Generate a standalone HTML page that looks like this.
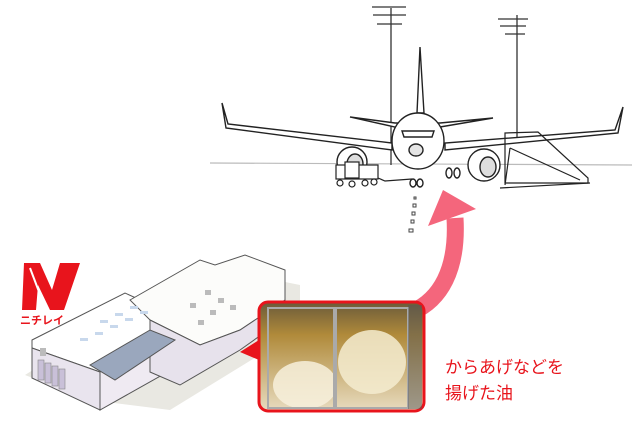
<!DOCTYPE html>
<html><head><meta charset="utf-8"><style>
html,body{margin:0;padding:0;background:#fff;}
body{width:640px;height:428px;position:relative;overflow:hidden;font-family:"Liberation Sans","Noto Sans CJK JP",sans-serif;}
.t{position:absolute;left:445px;color:#e8141c;font-size:17px;line-height:26px;top:355px;font-family:"Liberation Sans","Noto Sans CJK JP",sans-serif;}
</style></head><body>
<svg width="640" height="428" viewBox="0 0 640 428" style="position:absolute;left:0;top:0">
<defs>
<linearGradient id="oil" x1="0" y1="0" x2="0" y2="1">
<stop offset="0" stop-color="#6a5a3a"/><stop offset="0.3" stop-color="#b08a3a"/><stop offset="1" stop-color="#e8dcc0"/>
</linearGradient>
</defs>
<line x1="210" y1="163" x2="632" y2="165" stroke="#bbb" stroke-width="1.2"/>
<g stroke="#333" stroke-width="1.3" fill="none">
<line x1="391" y1="8" x2="391" y2="165"/>
<line x1="372" y1="7" x2="406" y2="7"/><line x1="373" y1="15" x2="406" y2="15"/><line x1="377" y1="24" x2="402" y2="24"/>
<line x1="517" y1="15" x2="517" y2="140"/>
<line x1="498" y1="19" x2="528" y2="19"/><line x1="500" y1="26" x2="526" y2="26"/><line x1="505" y1="34" x2="525" y2="34"/>
</g>
<g stroke="#222" stroke-width="1.4" fill="#fff">
<path d="M417,113 L420,47 L424,113 Z"/>
<path d="M350,117 L395,123 L440,123 L493,118 L440,127 L395,127 Z"/>
<path d="M222,103 L226,128 L392,150 L392,143 L228,124 Z"/>
<path d="M623,107 L618,133 L445,150 L445,143 L615,130 Z"/>
<circle cx="352" cy="162" r="15"/><ellipse cx="355" cy="164" rx="8" ry="10" fill="#ddd"/>
<circle cx="484" cy="165" r="16"/><ellipse cx="488" cy="167" rx="8" ry="10" fill="#ddd"/>
<ellipse cx="418" cy="141" rx="26" ry="28"/>
<path d="M402,131 L434,131 L432,137 L404,137 Z" fill="#fff"/>
<ellipse cx="416" cy="150" rx="7" ry="6" fill="#e5e5e5"/>
<ellipse cx="413" cy="183" rx="3" ry="4"/><ellipse cx="420" cy="183" rx="3" ry="4"/>
<ellipse cx="449" cy="173" rx="3" ry="5"/><ellipse cx="457" cy="173" rx="3" ry="5"/>
</g>
<g stroke="#222" stroke-width="1.2" fill="#fff">
<rect x="336" y="165" width="42" height="14"/><rect x="345" y="162" width="14" height="16"/>
<circle cx="340" cy="183" r="3"/><circle cx="352" cy="184" r="3"/><circle cx="365" cy="183" r="3"/><circle cx="374" cy="182" r="3"/>
<path d="M378,178 L385,181 L412,179" fill="none"/>
</g>
<g stroke="#222" stroke-width="1.2" fill="none">
<path d="M505,133 L538,132 L588,178 L588,183 L505,183 Z"/>
<line x1="510" y1="148" x2="580" y2="180"/><line x1="500" y1="188" x2="590" y2="183"/>
<line x1="510" y1="148" x2="505" y2="185"/>
</g>
<g fill="none" stroke="#444" stroke-width="1"><rect x="414" y="197" width="2" height="2"/><rect x="413" y="204" width="3" height="3"/><rect x="412" y="212" width="3" height="3"/><rect x="411" y="220" width="3" height="3"/><rect x="409" y="229" width="4" height="3"/></g>
<path d="M412,312 C440,300 458,270 455,218" fill="none" stroke="#f4667c" stroke-width="17"/>
<polygon points="428,226 476,209 443,190" fill="#f4667c"/>
<g stroke="#555" stroke-width="1">
<polygon points="25,375 200,265 300,285 300,330 170,410 90,400" fill="#e9e8e2" stroke="none"/>
<polygon points="32,340 125,293 180,318 180,325 100,372 32,348" fill="#fff"/>
<polygon points="32,348 100,372 100,410 32,378" fill="#e9e4ee"/>
<polygon points="100,372 180,325 180,365 100,410" fill="#efeaf2"/>
<polygon points="130,300 200,260 215,265 245,255 285,270 285,300 240,330 200,345 150,320" fill="#fcfcfa"/>
<polygon points="150,320 200,345 240,330 285,300 285,318 240,350 180,385 150,372" fill="#e7e2ec"/>
<polygon points="90,365 150,330 175,340 115,380" fill="#9aa7bd"/>
</g>
<g fill="#c8d8ec"><rect x="100" y="320" width="8" height="3"/><rect x="115" y="313" width="8" height="3"/><rect x="130" y="306" width="8" height="3"/><rect x="95" y="332" width="8" height="3"/><rect x="110" y="325" width="8" height="3"/><rect x="125" y="318" width="8" height="3"/><rect x="140" y="311" width="8" height="3"/><rect x="80" y="338" width="8" height="3"/></g>
<g fill="#bbb"><rect x="205" y="290" width="6" height="5"/><rect x="218" y="298" width="6" height="5"/><rect x="210" y="310" width="6" height="5"/><rect x="190" y="303" width="6" height="5"/><rect x="198" y="320" width="6" height="5"/><rect x="230" y="305" width="6" height="5"/><rect x="40" y="348" width="6" height="8"/></g>
<g fill="#c9c0d8" stroke="#888" stroke-width="0.6"><rect x="38" y="360" width="6" height="20"/><rect x="45" y="363" width="6" height="20"/><rect x="52" y="366" width="6" height="20"/><rect x="59" y="369" width="6" height="20"/></g>
<path d="M22,310 L24,263 L40,263 L52,290 L60,263 L80,263 L64,310 L50,310 L38,285 L36,310 Z" fill="#e8141c"/>
<path d="M30,268 L44,305" stroke="#fff" stroke-width="2" fill="none"/>
<text x="20" y="324" font-size="11" font-weight="bold" fill="#e8141c" font-family="Liberation Sans,Noto Sans CJK JP,sans-serif">ニチレイ</text>
<rect x="259" y="302" width="165" height="109" rx="9" fill="url(#oil)" stroke="#e8141c" stroke-width="3"/>
<polygon points="240,352 259,340 259,360" fill="#e8141c"/>
<ellipse cx="305" cy="385" rx="32" ry="24" fill="#f7f0dc" opacity="0.85"/>
<ellipse cx="372" cy="362" rx="34" ry="32" fill="#f5ecd0" opacity="0.85"/>
<g stroke="#aaa" stroke-width="2" fill="none"><rect x="268" y="308" width="66" height="100"/><rect x="336" y="308" width="72" height="100"/></g>
<rect x="408" y="305" width="14" height="104" fill="#555" opacity="0.5"/>
</svg>
<div class="t">からあげなどを<br>揚げた油</div>
</body></html>
